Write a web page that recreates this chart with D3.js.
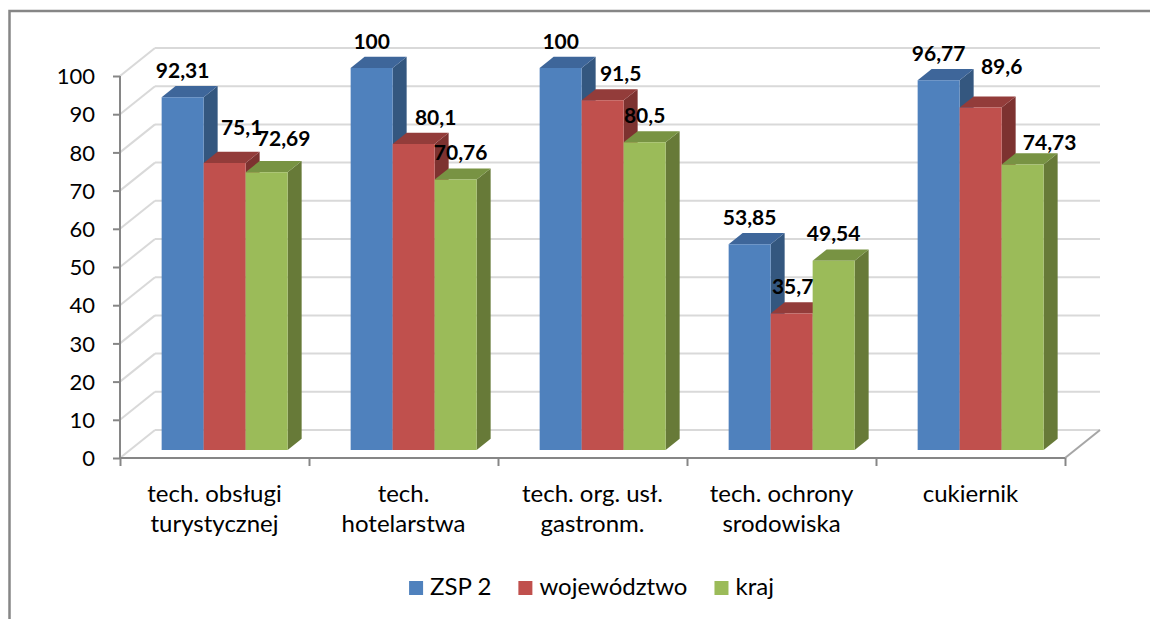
<!DOCTYPE html>
<html>
<head>
<meta charset="utf-8">
<script src="https://cdn.jsdelivr.net/npm/d3@7"></script>
<style>
  body { margin: 0; background: #fff; }
  svg { display: block; font-family: Lato, 'Open Sans', sans-serif; }
</style>
</head>
<body>
<div id="chart"></div>
<script>
// ---- data ----
const categories = [
  ['tech. obsługi', 'turystycznej'],
  ['tech.', 'hotelarstwa'],
  ['tech. org. usł.', 'gastronm.'],
  ['tech. ochrony', 'srodowiska'],
  ['cukiernik']
];
const seriesNames = ['ZSP 2', 'województwo', 'kraj'];
const zspValues = [92.31, 100, 100, 53.85, 96.77];
const wojValues = [75.1, 80.1, 91.5, 35.7, 89.6];
const krajValues = [72.69, 70.76, 80.5, 49.54, 74.73];
const yTickValues = [0, 10, 20, 30, 40, 50, 60, 70, 80, 90, 100];

// labels were hand-moved in the source chart: nudge [dx, dy] per series/category
const labelNudge = [
  [[0, 0], [0, 0], [0, 0], [0, 0], [0, 0]],
  [[17, -9], [22, 0], [18, 0], [1, 0], [21, -14]],
  [[17, -7], [5, 0], [0, 0], [0, 0], [27, 5]]
];

const seriesValues = [zspValues, wojValues, krajValues];
const colors = [
  { front: '#4F81BD', top: '#3E669A', side: '#34577F' },
  { front: '#C0504D', top: '#933C3A', side: '#7D3230' },
  { front: '#9BBB59', top: '#789343', side: '#677A38' }
];

// ---- layout ----
const W = 1150, H = 619;
const plot = { left: 120, right: 1065, top: 76, bottom: 458 };
const DEPTH_X = 35, DEPTH_Y = -28;   // full floor depth
const Z0 = 0.29, Z1 = 0.69;          // bar front / back depth

const svg = d3.select('#chart').append('svg')
  .attr('width', W).attr('height', H);

svg.append('rect')
  .attr('x', 9.5).attr('y', 11)
  .attr('width', 1300).attr('height', 800)
  .attr('fill', '#fff').attr('stroke', '#868686').attr('stroke-width', 2.5);

const y = d3.scaleLinear().domain([0, 100]).range([plot.bottom, plot.top]);
const x = d3.scaleBand().domain(d3.range(categories.length))
  .range([plot.left, plot.right]).paddingInner(1 / 3).paddingOuter(1 / 6);
const xs = d3.scaleBand().domain(d3.range(seriesNames.length)).range([0, x.bandwidth()]);
const xEdge = d3.scaleLinear().domain([0, categories.length]).range([plot.left, plot.right]);

const P = (px, v, z) => [px + DEPTH_X * z, y(v) + DEPTH_Y * z];
const poly = pts => pts.map(p => p.join(',')).join(' ');

// ---- walls / grid ----
const grid = svg.append('g').attr('stroke', '#D9D9D9').attr('stroke-width', 2).attr('fill', 'none');
yTickValues.forEach(t => {
  const a = P(plot.left, t, 1), b = P(plot.right, t, 1), c = P(plot.left, t, 0);
  grid.append('line').attr('x1', a[0]).attr('y1', a[1]).attr('x2', b[0]).attr('y2', b[1]);
  grid.append('line').attr('x1', c[0]).attr('y1', c[1]).attr('x2', a[0]).attr('y2', a[1]);
});

// floor right edge
const fr0 = P(plot.right, 0, 0), fr1 = P(plot.right, 0, 1);
svg.append('line')
  .attr('x1', fr0[0]).attr('y1', fr0[1]).attr('x2', fr1[0]).attr('y2', fr1[1])
  .attr('stroke', '#A6A6A6').attr('stroke-width', 2);

// ---- axes ----
const yAxis = svg.append('g')
  .attr('transform', `translate(${plot.left},0)`)
  .call(d3.axisLeft(y).tickValues(yTickValues).tickSize(7).tickPadding(18));
yAxis.select('.domain').attr('stroke', '#868686').attr('stroke-width', 2)
  .attr('d', `M0,${y(0)}V${y(100)}`);
yAxis.selectAll('.tick line').attr('stroke', '#868686').attr('stroke-width', 2);
yAxis.selectAll('.tick text').attr('font-size', 22).attr('fill', '#000')
  .attr('font-family', 'Lato, sans-serif').attr('dy', '0.35em');

const xAxis = svg.append('g')
  .attr('transform', `translate(0,${plot.bottom})`)
  .call(d3.axisBottom(xEdge).tickValues(d3.range(categories.length + 1)).tickSize(8).tickFormat(''));
xAxis.select('.domain').attr('stroke', '#868686').attr('stroke-width', 2)
  .attr('d', `M${plot.left},0H${plot.right}`);
xAxis.selectAll('.tick line').attr('stroke', '#868686').attr('stroke-width', 2);

// category labels
svg.append('g').selectAll('text')
  .data(categories).join('text')
  .attr('x', (d, i) => x(i) + x.bandwidth() / 2)
  .attr('y', 502)
  .attr('text-anchor', 'middle').attr('font-size', 24).attr('fill', '#000')
  .selectAll('tspan').data(d => d).join('tspan')
  .attr('x', function () { return d3.select(this.parentNode).attr('x'); })
  .attr('dy', (d, i) => i === 0 ? 0 : 30)
  .text(d => d);

// ---- 3D bars ----
const bars = [];
categories.forEach((c, i) => {
  seriesNames.forEach((s, k) => {
    bars.push({ i, k, v: seriesValues[k][i] });
  });
});

const barG = svg.append('g');
bars.forEach(b => {
  const x0 = x(b.i) + xs(b.k), x1 = x0 + xs.bandwidth();
  const col = colors[b.k];
  const g = barG.append('g');
  g.append('polygon')
    .attr('points', poly([P(x1, 0, Z0), P(x1, b.v, Z0), P(x1, b.v, Z1), P(x1, 0, Z1)]))
    .attr('fill', col.side);
  g.append('polygon')
    .attr('points', poly([P(x0, b.v, Z0), P(x1, b.v, Z0), P(x1, b.v, Z1), P(x0, b.v, Z1)]))
    .attr('fill', col.top);
  g.append('polygon')
    .attr('points', poly([P(x0, 0, Z0), P(x0, b.v, Z0), P(x1, b.v, Z0), P(x1, 0, Z0)]))
    .attr('fill', col.front);
});

// ---- value labels ----
svg.append('g').selectAll('text')
  .data(bars).join('text')
  .attr('x', d => x(d.i) + xs(d.k) + xs.bandwidth() / 2 + DEPTH_X * Z0 + labelNudge[d.k][d.i][0])
  .attr('y', d => P(0, d.v, Z1)[1] - 8 + labelNudge[d.k][d.i][1])
  .attr('text-anchor', 'middle')
  .attr('font-size', 21).attr('font-weight', 'bold').attr('fill', '#000')
  .text(d => String(d.v).replace('.', ','));

// ---- legend ----
const legend = svg.append('g');
const items = legend.selectAll('g').data(seriesNames).join('g');
items.append('rect').attr('width', 14).attr('height', 14).attr('y', -14)
  .attr('fill', (d, k) => colors[k].front);
items.append('text').attr('x', 21).attr('font-size', 24).attr('fill', '#000').text(d => d);
let lx = 0;
items.each(function () {
  d3.select(this).attr('transform', `translate(${lx},0)`);
  lx += 21 + this.querySelector('text').getComputedTextLength() + 27;
});
const legendW = lx - 27;
legend.attr('transform', `translate(${(plot.left + plot.right) / 2 - legendW / 2 - 1},595)`);
</script>
</body>
</html>
